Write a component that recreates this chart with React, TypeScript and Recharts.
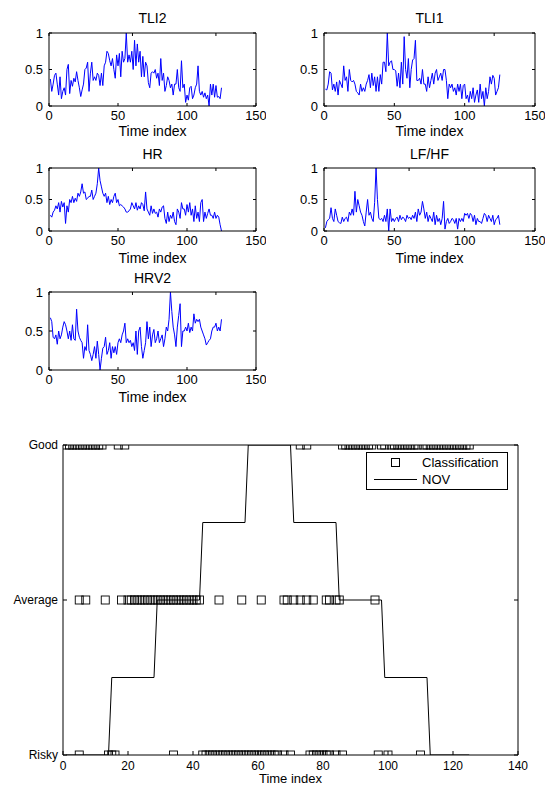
import React from 'react';
import { LineChart, Line, XAxis, YAxis, ComposedChart, Scatter, Legend, Label } from 'recharts';

const FONT = '"Liberation Sans", Arial, Helvetica, sans-serif';

// ---- normalised physiological indices, one value per time index (1..125) ----
const tli2 = [
  0.37, 0.2, 0.3, 0.42, 0.45, 0.3, 0.15, 0.4, 0.1, 0.2,
  0.25, 0.15, 0.5, 0.57, 0.17, 0.35, 0.27, 0.38, 0.33, 0.47,
  0.35, 0.25, 0.13, 0.22, 0.3, 0.5, 0.52, 0.6, 0.2, 0.45,
  0.6, 0.35, 0.4, 0.35, 0.45, 0.42, 0.28, 0.45, 0.28, 0.55,
  0.6, 0.75, 0.72, 0.62, 0.55, 0.65, 0.5, 0.38, 0.7, 0.55,
  0.72, 0.4, 0.75, 0.6, 0.65, 1.0, 0.6, 0.7, 0.6, 0.75,
  0.5, 0.9, 0.55, 0.85, 0.6, 0.75, 0.4, 0.68, 0.4, 0.6,
  0.55, 0.32, 0.25, 0.45, 0.47, 0.45, 0.5, 0.38, 0.45, 0.28,
  0.65, 0.35, 0.45, 0.2, 0.28, 0.4, 0.35, 0.25, 0.3, 0.15,
  0.3, 0.3, 0.5, 0.25, 0.2, 0.62, 0.25, 0.3, 0.05, 0.15,
  0.08, 0.25, 0.27, 0.1, 0.15, 0.25, 0.3, 0.55, 0.2, 0.15,
  0.2, 0.12, 0.18, 0.1, 0.15, 0.0, 0.3, 0.15, 0.3, 0.12,
  0.28, 0.12, 0.13, 0.1, 0.25,
];

const tli1 = [
  0.23, 0.22, 0.3, 0.47, 0.45, 0.22, 0.3, 0.2, 0.33, 0.15,
  0.35, 0.3, 0.25, 0.55, 0.35, 0.4, 0.2, 0.5, 0.35, 0.33,
  0.35, 0.3, 0.2, 0.18, 0.15, 0.3, 0.2, 0.25, 0.2, 0.3,
  0.35, 0.43, 0.25, 0.45, 0.28, 0.4, 0.2, 0.4, 0.2, 0.43,
  0.3, 0.6, 0.6, 0.47, 1.0, 0.55, 0.6, 0.62, 0.5, 0.5,
  0.48, 0.27, 0.45, 0.25, 0.6, 0.3, 0.95, 0.5, 0.38, 0.65,
  0.25, 0.5, 0.63, 0.65, 0.9, 0.35, 0.35, 0.38, 0.3, 0.5,
  0.3, 0.3, 0.2, 0.4, 0.25, 0.35, 0.45, 0.3, 0.45, 0.5,
  0.35, 0.4, 0.45, 0.35, 0.5, 0.5, 0.35, 0.1, 0.3, 0.25,
  0.3, 0.2, 0.25, 0.15, 0.3, 0.2, 0.3, 0.1, 0.28, 0.3,
  0.1, 0.15, 0.05, 0.2, 0.1, 0.25, 0.05, 0.15, 0.22, 0.05,
  0.3, 0.1, 0.2, 0.0, 0.25, 0.1, 0.2, 0.4, 0.3, 0.42,
  0.38, 0.15, 0.2, 0.25, 0.43,
];

const hr = [
  0.25, 0.22, 0.3, 0.33, 0.4, 0.35, 0.45, 0.3, 0.47, 0.38,
  0.45, 0.12, 0.4, 0.3, 0.5, 0.45, 0.55, 0.45, 0.52, 0.47,
  0.6, 0.55, 0.62, 0.75, 0.6, 0.62, 0.5, 0.52, 0.55, 0.55,
  0.65, 0.5, 0.55, 0.6, 0.75, 1.0, 0.8, 0.7, 0.6, 0.55,
  0.6, 0.45, 0.55, 0.42, 0.5, 0.45, 0.55, 0.6, 0.45, 0.5,
  0.4, 0.42, 0.4, 0.38, 0.35, 0.3, 0.3, 0.32, 0.35, 0.45,
  0.4, 0.35, 0.45, 0.33, 0.4, 0.35, 0.45, 0.42, 0.32, 0.62,
  0.35, 0.3, 0.25, 0.4, 0.28, 0.35, 0.28, 0.3, 0.22, 0.35,
  0.3, 0.38, 0.4, 0.2, 0.12, 0.3, 0.15, 0.25, 0.2, 0.3,
  0.15, 0.1, 0.35, 0.3, 0.2, 0.45, 0.35, 0.35, 0.25, 0.42,
  0.3, 0.45, 0.25, 0.35, 0.15, 0.4, 0.2, 0.3, 0.15, 0.45,
  0.5, 0.15, 0.3, 0.2, 0.28, 0.35, 0.25, 0.25, 0.2, 0.3,
  0.2, 0.25, 0.22, 0.1, 0.0,
];

const lfhf = [
  0.05, 0.15, 0.18, 0.2, 0.37, 0.2, 0.15, 0.35, 0.25, 0.15,
  0.13, 0.12, 0.22, 0.15, 0.2, 0.22, 0.15, 0.3, 0.25, 0.35,
  0.25, 0.63, 0.3, 0.5, 0.4, 0.3, 0.25, 0.15, 0.08, 0.3,
  0.5, 0.25, 0.3, 0.2, 0.15, 0.45, 1.0, 0.5, 0.2, 0.18,
  0.2, 0.15, 0.25, 0.15, 0.35, 0.0, 0.35, 0.15, 0.2, 0.15,
  0.2, 0.22, 0.15, 0.25, 0.18, 0.22, 0.2, 0.15, 0.25, 0.2,
  0.22, 0.18, 0.25, 0.2, 0.3, 0.15, 0.35, 0.25, 0.3, 0.47,
  0.35, 0.2, 0.3, 0.15, 0.25, 0.2, 0.15, 0.3, 0.1, 0.25,
  0.15, 0.2, 0.1, 0.2, 0.47, 0.03, 0.15, 0.2, 0.12, 0.15,
  0.2, 0.18, 0.12, 0.2, 0.03, 0.2, 0.15, 0.2, 0.15, 0.28,
  0.25, 0.28, 0.2, 0.28, 0.25, 0.15, 0.25, 0.1, 0.2, 0.15,
  0.15, 0.12, 0.2, 0.28, 0.25, 0.15, 0.25, 0.2, 0.15, 0.25,
  0.1, 0.18, 0.2, 0.25, 0.1,
];

const hrv2 = [
  0.67, 0.62, 0.42, 0.4, 0.45, 0.33, 0.5, 0.4, 0.45, 0.55,
  0.62, 0.58, 0.5, 0.4, 0.5, 0.38, 0.58, 0.4, 0.38, 0.78,
  0.5, 0.42, 0.38, 0.35, 0.15, 0.3, 0.25, 0.58, 0.25, 0.2,
  0.12, 0.2, 0.3, 0.15, 0.37, 0.2, 0.0, 0.15, 0.28, 0.3,
  0.42, 0.2, 0.25, 0.35, 0.15, 0.3, 0.22, 0.3, 0.2, 0.35,
  0.4, 0.35, 0.45, 0.5, 0.6, 0.35, 0.4, 0.35, 0.38, 0.3,
  0.35, 0.25, 0.5, 0.2, 0.5, 0.55, 0.3, 0.15, 0.25, 0.35,
  0.62, 0.4, 0.55, 0.3, 0.45, 0.52, 0.35, 0.4, 0.5, 0.35,
  0.4, 0.45, 0.3, 0.4, 0.55, 0.5, 0.65, 1.0, 0.75, 0.55,
  0.45, 0.3, 0.55, 0.7, 0.85, 0.3, 0.5, 0.5, 0.55, 0.5,
  0.6, 0.48, 0.55, 0.5, 0.72, 0.6, 0.65, 0.62, 0.65, 0.55,
  0.5, 0.45, 0.4, 0.32, 0.35, 0.38, 0.4, 0.5, 0.55, 0.55,
  0.6, 0.5, 0.55, 0.5, 0.65,
];

// ---- classification results (time indices per class) ----
const goodIdx = [
  1, 2, 3, 4, 5, 6, 7, 8, 9, 10, 11, 12, 17, 19, 73, 75,
  86, 87, 88, 89, 90, 91, 92, 93, 94, 95, 98, 99, 101, 102, 103, 104, 105,
  106, 107, 108, 109, 111, 112, 113, 114, 115, 116, 117, 118, 119, 120,
  121, 122, 123, 124, 125,
];
const averageIdx = [
  5, 7, 13, 18, 20, 21, 22, 23, 24, 25, 26, 27, 28, 29, 30, 31, 32, 33, 34,
  35, 36, 37, 38, 39, 40, 41, 42, 48, 55, 61, 68, 69, 71, 73, 75, 77,
  81, 82, 84, 85, 96,
];
const riskyIdx = [
  5, 14, 15, 16, 34, 43, 44, 45, 46, 47, 48, 49, 50, 51, 52, 53, 54, 55,
  56, 57, 58, 59, 60, 61, 62, 63, 64, 65, 66, 68, 70, 76, 77, 78, 79, 80,
  81, 82, 84, 86, 97, 100, 110,
];

// ---- NOV level breakpoints ----
const novTime = [1, 14, 15, 28, 29, 42, 43, 56, 57, 70, 71, 84, 85, 98, 99, 112, 113, 125];
const novLevel = [1, 1, 1.5, 1.5, 2, 2, 2.5, 2.5, 3, 3, 2.5, 2.5, 2, 2, 1.5, 1.5, 1, 1];

const levelValues = [1, 2, 3];
const levelNames = ['Risky', 'Average', 'Good'];

const smallXTicks = [0, 50, 100, 150];
const smallYTicks = [0, 0.5, 1];
const bigXTicks = [0, 20, 40, 60, 80, 100, 120, 140];

const NoTick = () => <g />;

type PanelProps = {
  x0: number; x1: number; y0: number; y1: number;
  title: string; titleY: number; labelY: number; values: number[];
};

function Panel({ x0, x1, y0, y1, title, titleY, labelY, values }: PanelProps) {
  const padL = 45, padR = 10, padT = 12, padB = 40;
  const w = x1 - x0 + padL + padR;
  const h = y1 - y0 + padT + padB;
  const rows = values.map((v, i) => ({ t: i + 1, v }));
  const tickStyle = { fill: '#000', fontSize: 13, fontFamily: FONT };
  return (
    <>
      <div
        style={{
          position: 'absolute', left: x0, width: x1 - x0, top: titleY - 9, height: 18,
          lineHeight: '18px', textAlign: 'center', fontFamily: FONT, fontSize: 14, color: '#000',
        }}
      >
        {title}
      </div>
      <div style={{ position: 'absolute', left: x0 - padL, top: y0 - padT }}>
        <LineChart width={w} height={h} data={rows} margin={{ top: padT - 1, right: padR - 1, bottom: 0, left: 0 }}>
          <XAxis
            xAxisId="b" dataKey="t" type="number" domain={[0, 150]} ticks={smallXTicks}
            interval={0} height={padB} tickSize={-3} tickMargin={8} stroke="#000"
            tick={tickStyle} allowDataOverflow
          >
            <Label value="Time index" position="insideTop" offset={labelY - y1 - 5}
              fill="#000" fontSize={14} fontFamily={FONT} />
          </XAxis>
          <XAxis
            xAxisId="t" orientation="top" type="number" domain={[0, 150]} ticks={smallXTicks}
            interval={0} height={1} tickSize={-3} stroke="#000" tick={<NoTick />} allowDataOverflow
          />
          <YAxis
            yAxisId="l" type="number" domain={[0, 1]} ticks={smallYTicks} interval={0}
            width={padL} tickSize={-3} tickMargin={9} stroke="#000" tick={tickStyle} allowDataOverflow
          />
          <YAxis
            yAxisId="r" orientation="right" type="number" domain={[0, 1]} ticks={smallYTicks}
            interval={0} width={1} tickSize={-3} stroke="#000" tick={<NoTick />} allowDataOverflow
          />
          <Line
            xAxisId="b" yAxisId="l" type="linear" dataKey="v" stroke="#0000ff" strokeWidth={1}
            dot={false} activeDot={false} isAnimationActive={false}
          />
        </LineChart>
      </div>
    </>
  );
}

function SquareMark(props: any) {
  const { cx, cy } = props;
  if (cx == null || cy == null) return <g />;
  return <rect x={cx - 4} y={cy - 4} width={8} height={8} fill="none" stroke="#000" strokeWidth={0.9} />;
}

function LegendBox(props: any) {
  const payload = props.payload || [];
  return (
    <div
      style={{
        width: 140, height: 36, border: '1px solid #000', background: '#fff',
        fontFamily: FONT, fontSize: 13, color: '#000', position: 'relative',
      }}
    >
      {payload.map((e: any, i: number) => (
        <div
          key={i}
          style={{ position: 'absolute', left: 0, top: i === 0 ? 1 : 18, height: 17, display: 'flex', alignItems: 'center' }}
        >
          <svg width={55} height={17} style={{ display: 'block' }}>
            {e.type === 'line' ? (
              <line x1={7} x2={50} y1={8.5} y2={8.5} stroke="#000" strokeWidth={1} />
            ) : (
              <rect x={24.5} y={4.5} width={8} height={8} fill="none" stroke="#000" strokeWidth={1} />
            )}
          </svg>
          <span style={{ lineHeight: '17px' }}>{e.value}</span>
        </div>
      ))}
    </div>
  );
}

function ClassChart() {
  const top = 400;
  const points = [
    ...goodIdx.map((t) => ({ t, v: 3 })),
    ...averageIdx.map((t) => ({ t, v: 2 })),
    ...riskyIdx.map((t) => ({ t, v: 1 })),
  ];
  const nov = novTime.map((t, i) => ({ t, v: novLevel[i] }));
  const tickStyle = { fill: '#000', fontSize: 12, fontFamily: FONT };
  const fmt = (v: number) => levelNames[levelValues.indexOf(v)] ?? '';
  return (
    <div style={{ position: 'absolute', left: 0, top }}>
      <ComposedChart width={548} height={385} margin={{ top: 44, right: 29, bottom: 0, left: 0 }}>
        <XAxis
          xAxisId="b" dataKey="t" type="number" domain={[0, 140]} ticks={bigXTicks} interval={0}
          height={30} tickSize={-4} tickMargin={10} stroke="#000" tick={tickStyle} allowDataOverflow
        >
          <Label value="Time index" position="insideTop" offset={19}
            fill="#000" fontSize={13} fontFamily={FONT} />
        </XAxis>
        <XAxis
          xAxisId="t" orientation="top" type="number" domain={[0, 140]} ticks={bigXTicks} interval={0}
          height={1} tickSize={-4} stroke="#000" tick={<NoTick />} allowDataOverflow
        />
        <YAxis
          yAxisId="l" dataKey="v" type="number" domain={[1, 3]} ticks={levelValues} interval={0}
          width={63} tickSize={-4} tickMargin={9} stroke="#000" tick={tickStyle}
          tickFormatter={fmt} allowDataOverflow
        />
        <YAxis
          yAxisId="r" orientation="right" type="number" domain={[1, 3]} ticks={levelValues} interval={0}
          width={1} tickSize={-4} stroke="#000" tick={<NoTick />} allowDataOverflow
        />
        <Scatter
          name="Classification" xAxisId="b" yAxisId="l" data={points} dataKey="v"
          legendType="square" shape={<SquareMark />} isAnimationActive={false}
        />
        <Line
          name="NOV" xAxisId="b" yAxisId="l" data={nov} dataKey="v" type="linear"
          stroke="#000" strokeWidth={1} dot={false} activeDot={false} legendType="line"
          isAnimationActive={false}
        />
        <Legend
          layout="vertical" align="center" verticalAlign="middle" content={<LegendBox />}
          wrapperStyle={{ position: 'absolute', left: 366, top: 52, width: 142, height: 38 }}
        />
      </ComposedChart>
    </div>
  );
}

export default function App() {
  return (
    <div style={{ position: 'absolute', left: 0, top: 0, width: 548, height: 785, background: '#fff' }}>
      <Panel x0={49} x1={256} y0={33} y1={106} title="TLI2" titleY={18} labelY={131} values={tli2} />
      <Panel x0={324} x1={535} y0={33} y1={106} title="TLI1" titleY={18} labelY={131} values={tli1} />
      <Panel x0={49} x1={256} y0={168} y1={231} title="HR" titleY={154} labelY={258} values={hr} />
      <Panel x0={324} x1={535} y0={168} y1={231} title="LF/HF" titleY={154} labelY={258} values={lfhf} />
      <Panel x0={49} x1={256} y0={292} y1={370} title="HRV2" titleY={278} labelY={397} values={hrv2} />
      <ClassChart />
    </div>
  );
}
